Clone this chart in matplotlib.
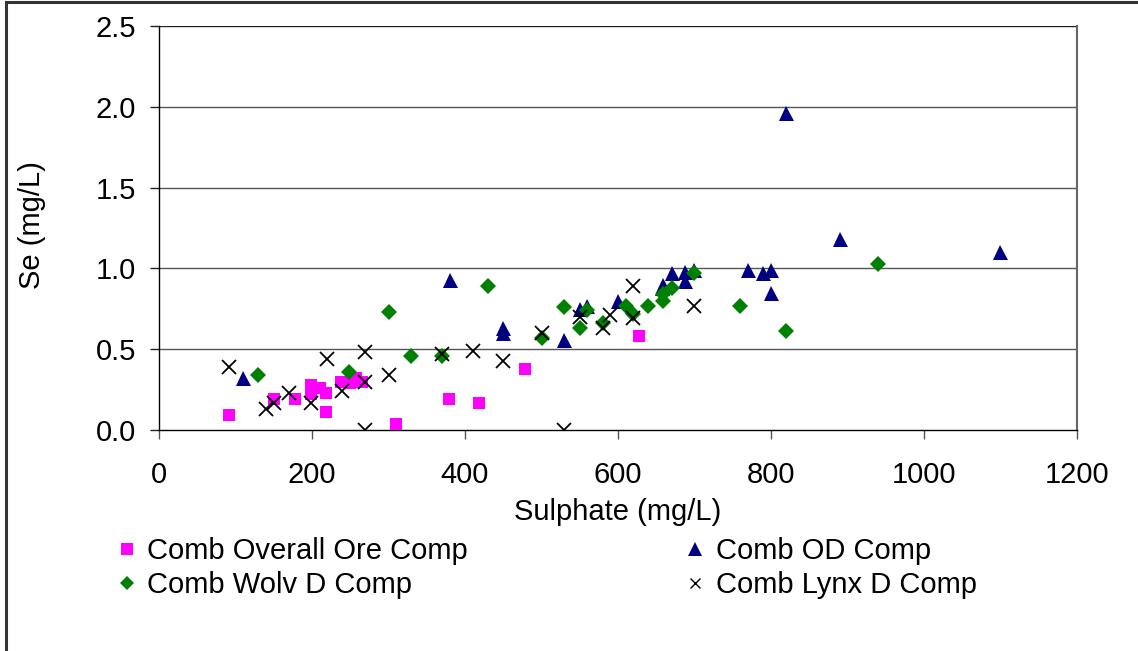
import matplotlib
matplotlib.use("Agg")
import matplotlib.pyplot as plt
from matplotlib.lines import Line2D

plt.rcParams['font.family'] = ['Liberation Sans', 'DejaVu Sans']

# Sulphate (mg/L) vs Se (mg/L) for each composite
overall_x = [92, 150, 178, 199, 199, 210, 218, 218, 238, 250, 258, 266, 310, 379, 418, 478, 628]
overall_y = [0.09, 0.19, 0.19, 0.28, 0.22, 0.26, 0.23, 0.11, 0.30, 0.29, 0.32, 0.30, 0.04, 0.19, 0.17, 0.38, 0.58]

od_x = [110, 380, 450, 450, 530, 550, 560, 600, 657, 659, 670, 688, 688, 700, 770, 790, 800, 800, 820, 890, 1100]
od_y = [0.32, 0.93, 0.63, 0.60, 0.56, 0.75, 0.77, 0.80, 0.88, 0.90, 0.97, 0.98, 0.92, 0.99, 0.99, 0.97, 0.99, 0.85, 1.96, 1.18, 1.10]

wolv_x = [130, 248, 300, 330, 370, 430, 500, 530, 550, 560, 580, 610, 620, 639, 659, 659, 670, 700, 760, 820, 940]
wolv_y = [0.34, 0.36, 0.73, 0.46, 0.46, 0.89, 0.57, 0.76, 0.63, 0.74, 0.66, 0.77, 0.72, 0.77, 0.80, 0.84, 0.88, 0.97, 0.77, 0.61, 1.03]

lynx_x = [91, 140, 150, 170, 199, 219, 239, 269, 269, 269, 300, 370, 410, 450, 500, 530, 550, 580, 590, 620, 620, 700]
lynx_y = [0.39, 0.13, 0.17, 0.23, 0.17, 0.44, 0.24, 0.30, 0.48, 0.00, 0.34, 0.47, 0.49, 0.43, 0.60, 0.00, 0.70, 0.63, 0.71, 0.89, 0.69, 0.77]

labels = ["Comb Overall Ore Comp", "Comb OD Comp", "Comb Wolv D Comp", "Comb Lynx D Comp"]
x_ticks = [0, 200, 400, 600, 800, 1000, 1200]
y_ticks = [0.0, 0.5, 1.0, 1.5, 2.0, 2.5]

FS = 21
W, H = 1138, 651
fig = plt.figure(figsize=(W / 100, H / 100), dpi=100)
ax = fig.add_axes([159 / W, 1 - 430 / H, (1077 - 159) / W, (430 - 26) / H])

grid_col = '#555555'
for yv in y_ticks[1:]:
    ax.axhline(yv, color=grid_col if yv < 2.5 else '#222222', lw=1.0, zorder=1)

ax.plot(overall_x, overall_y, ls='none', marker='s', ms=8.5, mfc='#FF00FF', mec='#FF00FF', mew=0, zorder=3)
ax.plot(od_x, od_y, ls='none', marker='^', ms=10.8, mfc='#000080', mec='#000080', mew=0, zorder=3)
ax.plot(wolv_x, wolv_y, ls='none', marker='D', ms=8.3, mfc='#008000', mec='#008000', mew=0, zorder=3)
ax.plot(lynx_x, lynx_y, ls='none', marker='x', ms=9.5, mec='black', mew=1.3, zorder=4)

ax.set_xlim(0, 1200)
ax.set_ylim(0, 2.5)
ax.set_xticks(x_ticks)
ax.set_xticklabels([str(v) for v in x_ticks])
ax.set_yticks(y_ticks)
ax.set_yticklabels([f"{v:.1f}" for v in y_ticks])
ax.tick_params(axis='x', direction='out', length=6.5, width=1, color='#555555', pad=16, labelsize=FS)
ax.tick_params(axis='y', direction='out', length=6.5, width=1, color='#222222', pad=10, labelsize=FS)

ax.spines['top'].set_visible(False)
ax.spines['right'].set_color('#666666')
ax.spines['right'].set_linewidth(1.5)
ax.spines['left'].set_color('black')
ax.spines['bottom'].set_color('black')
ax.spines['left'].set_linewidth(1.0)
ax.spines['bottom'].set_linewidth(1.0)

ax.set_xlabel("Sulphate (mg/L)", fontsize=FS, va='center')
ax.xaxis.set_label_coords(0.5, -(512 - 430) / 404)
ax.set_ylabel("Se (mg/L)", fontsize=FS, va='center')
ax.yaxis.set_label_coords(-(159 - 32) / 918, 1 - (225 - 26) / 404)

handles = [
    Line2D([], [], ls='none', marker='s', ms=8.0, mfc='#FF00FF', mec='#FF00FF', mew=0),
    Line2D([], [], ls='none', marker='D', ms=7.6, mfc='#008000', mec='#008000', mew=0),
    Line2D([], [], ls='none', marker='^', ms=9.8, mfc='#000080', mec='#000080', mew=0),
    Line2D([], [], ls='none', marker='x', ms=7.0, mec='black', mew=1.0),
]
leg_labels = [labels[0], labels[2], labels[1], labels[3]]
fig.legend(handles, leg_labels, ncol=2, loc='upper left',
           bbox_to_anchor=(115 / W, 1 - 537 / H), frameon=False,
           fontsize=FS, handlelength=0.8, handletextpad=0.3,
           columnspacing=7.4, labelspacing=0.22, borderpad=0, borderaxespad=0)

# chart-area border (top and left edges visible)
fig.add_artist(Line2D([6 / W, 6 / W], [0, 1 - 2 / H], transform=fig.transFigure, color='#333333', lw=2.2))
fig.add_artist(Line2D([6 / W, 1], [1 - 2 / H, 1 - 2 / H], transform=fig.transFigure, color='#333333', lw=2.2))

fig.savefig("out.png", dpi=100)
